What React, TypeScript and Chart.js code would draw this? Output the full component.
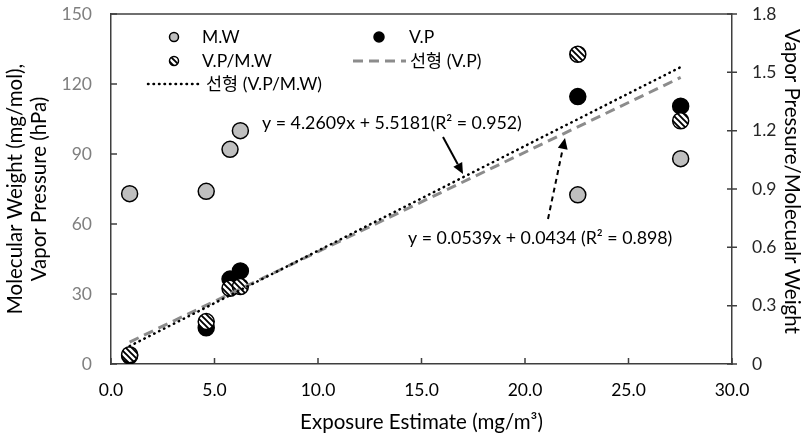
import React, { useEffect, useRef } from "react";
import { Chart, registerables } from "chart.js";

Chart.register(...registerables);

// ---- data ----
const exposure = [0.9, 4.6, 5.75, 6.25, 22.55, 27.52];
const molecularWeight = [73, 74, 92, 100, 72.5, 88];
const vaporPressure = [3.5, 15.5, 36.4, 39.9, 114.6, 110.5];
const vpPerMw = [0.048, 0.218, 0.389, 0.398, 1.593, 1.251];

const trendX = [0.9, 27.52];
const vpTrend = [9.4, 122.8];
const ratioTrend = [0.092, 1.527];

const xTickValues = [0, 5, 10, 15, 20, 25, 30];
const leftTickValues = [0, 30, 60, 90, 120, 150];
const rightTickValues = [0, 0.3, 0.6, 0.9, 1.2, 1.5, 1.8];

const legendLabels = ["M.W", "V.P", "V.P/M.W", "선형 (V.P)", "선형 (V.P/M.W)"];
const eqVP = "y = 4.2609x + 5.5181(R² = 0.952)";
const eqRatio = "y = 0.0539x + 0.0434 (R² = 0.898)";

const xTitle = "Exposure Estimate (mg/m³)";
const leftTitle = ["Molecular Weight (mg/mol),", "Vapor Pressure (hPa)"];
const rightTitle = "Vapor Pressure/Molecualr Weight";

const FONT = "Lato, 'Noto Sans CJK KR', sans-serif";
const AXIS = "#3f3f3f";
const GRAY_FILL = "#bfbfbf";
const TREND_GRAY = "#8c8c8c";

function makeHatch(): CanvasPattern | string {
  const c = document.createElement("canvas");
  c.width = 6;
  c.height = 6;
  const g = c.getContext("2d");
  if (!g) return "#fff";
  g.fillStyle = "#fff";
  g.fillRect(0, 0, 6, 6);
  g.strokeStyle = "#000";
  g.lineWidth = 1.9;
  g.beginPath();
  g.moveTo(-3, -3);
  g.lineTo(9, 9);
  g.moveTo(-3, 3);
  g.lineTo(3, 9);
  g.moveTo(3, -3);
  g.lineTo(9, 3);
  g.stroke();
  return g.createPattern(c, "repeat") || "#fff";
}

function arrow(ctx: CanvasRenderingContext2D, x1: number, y1: number, x2: number, y2: number, dashed: boolean) {
  const ang = Math.atan2(y2 - y1, x2 - x1);
  const head = 11;
  const hw = 5;
  const bx = x2 - head * Math.cos(ang);
  const by = y2 - head * Math.sin(ang);
  ctx.save();
  ctx.strokeStyle = "#000";
  ctx.fillStyle = "#000";
  ctx.lineWidth = 2;
  ctx.setLineDash(dashed ? [5, 4] : []);
  ctx.beginPath();
  ctx.moveTo(x1, y1);
  ctx.lineTo(bx, by);
  ctx.stroke();
  ctx.setLineDash([]);
  ctx.beginPath();
  ctx.moveTo(x2, y2);
  ctx.lineTo(bx + hw * Math.sin(ang), by - hw * Math.cos(ang));
  ctx.lineTo(bx - hw * Math.sin(ang), by + hw * Math.cos(ang));
  ctx.closePath();
  ctx.fill();
  ctx.restore();
}

export default function App() {
  const ref = useRef<HTMLCanvasElement | null>(null);

  useEffect(() => {
    if (!ref.current) return;
    const hatch = makeHatch();

    const overlay = {
      id: "overlay",
      afterDraw(chart: any) {
        const ctx: CanvasRenderingContext2D = chart.ctx;
        const { left, right, top, bottom } = chart.chartArea;
        const xs = chart.scales.x;
        const ys = chart.scales.y;
        const y2 = chart.scales.y2;
        ctx.save();
        // frame top
        ctx.strokeStyle = AXIS;
        ctx.lineWidth = 1.5;
        ctx.beginPath();
        ctx.moveTo(left, top);
        ctx.lineTo(right, top);
        ctx.stroke();
        // ticks
        ctx.beginPath();
        xTickValues.forEach((v) => {
          const px = xs.getPixelForValue(v);
          ctx.moveTo(px, bottom);
          ctx.lineTo(px, bottom - 6);
        });
        leftTickValues.forEach((v) => {
          const py = ys.getPixelForValue(v);
          ctx.moveTo(left, py);
          ctx.lineTo(left + 6, py);
        });
        rightTickValues.forEach((v) => {
          const py = y2.getPixelForValue(v);
          ctx.moveTo(right - 5, py);
          ctx.lineTo(right + 5, py);
        });
        ctx.stroke();

        // right axis title
        ctx.save();
        ctx.translate(792, 181.5);
        ctx.rotate(Math.PI / 2);
        ctx.font = `20.5px ${FONT}`;
        ctx.fillStyle = "#000";
        ctx.textAlign = "center";
        ctx.textBaseline = "middle";
        ctx.fillText(rightTitle, 0, 0);
        ctx.restore();

        // legend
        ctx.font = `17.5px ${FONT}`;
        ctx.textBaseline = "middle";
        ctx.textAlign = "left";
        const mk = (x: number, y: number, fill: any, r: number) => {
          ctx.beginPath();
          ctx.arc(x, y, r, 0, Math.PI * 2);
          ctx.fillStyle = fill;
          ctx.fill();
          ctx.lineWidth = 1.5;
          ctx.strokeStyle = "#000";
          ctx.stroke();
        };
        mk(174, 37, GRAY_FILL, 4.5);
        mk(379, 37, "#000", 5);
        mk(174, 61, hatch, 4.5);
        ctx.fillStyle = "#000";
        ctx.fillText(legendLabels[0], 202, 37);
        ctx.fillText(legendLabels[1], 409, 37);
        ctx.fillText(legendLabels[2], 202, 61);
        ctx.fillText(legendLabels[3], 410, 61);
        ctx.fillText(legendLabels[4], 206, 84);
        // legend lines
        ctx.lineCap = "butt";
        ctx.strokeStyle = TREND_GRAY;
        ctx.lineWidth = 3;
        ctx.setLineDash([10, 6]);
        ctx.beginPath();
        ctx.moveTo(353, 61);
        ctx.lineTo(406, 61);
        ctx.stroke();
        ctx.strokeStyle = "#000";
        ctx.lineWidth = 2.5;
        ctx.lineCap = "round";
        ctx.setLineDash([0.5, 5]);
        ctx.beginPath();
        ctx.moveTo(148, 84);
        ctx.lineTo(198, 84);
        ctx.stroke();
        ctx.setLineDash([]);
        ctx.lineCap = "butt";

        // annotations
        ctx.font = `17.8px ${FONT}`;
        ctx.fillStyle = "#000";
        ctx.fillText(eqVP, 262, 123);
        ctx.fillText(eqRatio, 408, 238);
        ctx.restore();
        arrow(ctx, 443, 137, 463, 174, false);
        arrow(ctx, 548, 219, 565, 138, true);
      },
    };

    const pts = (ys: number[]) => exposure.map((x, i) => ({ x, y: ys[i] }));
    const trend = (ys: number[]) => trendX.map((x, i) => ({ x, y: ys[i] }));

    const hiddenTicks = (len: number) => ({
      display: true,
      drawOnChartArea: false,
      drawTicks: true,
      tickLength: len,
      tickColor: "rgba(0,0,0,0)",
    });

    const chart = new Chart(ref.current, {
      type: "scatter",
      data: {
        datasets: [
          {
            label: "선형 (V.P/M.W)",
            data: trend(ratioTrend),
            yAxisID: "y2",
            showLine: true,
            borderColor: "#000",
            borderWidth: 2.5,
            borderDash: [0.5, 5],
            borderCapStyle: "round",
            pointRadius: 0,
            order: -2,
          } as any,
          {
            label: "선형 (V.P)",
            data: trend(vpTrend),
            yAxisID: "y",
            showLine: true,
            borderColor: TREND_GRAY,
            borderWidth: 3,
            borderDash: [10, 6],
            pointRadius: 0,
            order: -1,
          } as any,
          {
            label: "V.P/M.W",
            data: pts(vpPerMw),
            yAxisID: "y2",
            backgroundColor: hatch as any,
            borderColor: "#000",
            borderWidth: 1.5,
            pointRadius: 8,
            order: 0,
          },
          {
            label: "V.P",
            data: pts(vaporPressure),
            yAxisID: "y",
            backgroundColor: "#000",
            borderColor: "#000",
            borderWidth: 1.5,
            pointRadius: 8,
            order: 1,
          },
          {
            label: "M.W",
            data: pts(molecularWeight),
            yAxisID: "y",
            backgroundColor: GRAY_FILL,
            borderColor: "#000",
            borderWidth: 1.5,
            pointRadius: 8,
            order: 2,
          },
        ],
      },
      options: {
        responsive: false,
        animation: false,
        devicePixelRatio: 1,
        layout: { padding: { top: 14, left: 0, right: 0, bottom: 0 } },
        plugins: { legend: { display: false }, tooltip: { enabled: false } },
        scales: {
          x: {
            type: "linear",
            position: "bottom",
            min: 0,
            max: 30,
            afterBuildTicks: (s: any) => {
              s.ticks = xTickValues.map((v) => ({ value: v }));
            },
            afterFit: (s: any) => {
              s.height = 71;
            },
            ticks: {
              callback: (v: any) => Number(v).toFixed(1),
              color: "#000",
              font: { family: FONT, size: 17.5 },
              padding: 2,
              maxRotation: 0,
              autoSkip: false,
            },
            grid: hiddenTicks(14),
            border: { display: true, color: AXIS, width: 1.5 },
            title: {
              display: true,
              text: xTitle,
              color: "#000",
              font: { family: FONT, size: 20.5, lineHeight: 1.2 },
              padding: { top: 0, bottom: 0 },
            },
          },
          y: {
            type: "linear",
            position: "left",
            min: 0,
            max: 150,
            afterBuildTicks: (s: any) => {
              s.ticks = leftTickValues.map((v) => ({ value: v }));
            },
            afterFit: (s: any) => {
              s.width = 111;
            },
            ticks: {
              callback: (v: any) => String(v),
              color: "#7f7f7f",
              font: { family: FONT, size: 17.5 },
              padding: 2,
            },
            grid: hiddenTicks(17),
            border: { display: true, color: AXIS, width: 1.5 },
            title: {
              display: true,
              text: leftTitle,
              color: "#000",
              font: { family: FONT, size: 20.5, lineHeight: 1.15 },
              padding: { top: 4, bottom: 0 },
            },
          },
          y2: {
            type: "linear",
            position: "right",
            min: 0,
            max: 1.8,
            afterBuildTicks: (s: any) => {
              s.ticks = rightTickValues.map((v) => ({ value: v }));
            },
            afterFit: (s: any) => {
              s.width = 71;
            },
            ticks: {
              callback: (v: any) => (Number(v) === 0 ? "0" : Number(v).toFixed(1)),
              color: "#262626",
              font: { family: FONT, size: 17.5 },
              padding: 2,
            },
            grid: hiddenTicks(18),
            border: { display: true, color: AXIS, width: 1.5 },
            title: { display: false },
          },
        },
      },
      plugins: [overlay],
    } as any);

    return () => chart.destroy();
  }, []);

  return (
    <div style={{ position: "absolute", left: 0, top: 0, width: 803, height: 435, background: "#fff" }}>
      <canvas ref={ref} width={803} height={435} style={{ display: "block", width: 803, height: 435 }} />
    </div>
  );
}
